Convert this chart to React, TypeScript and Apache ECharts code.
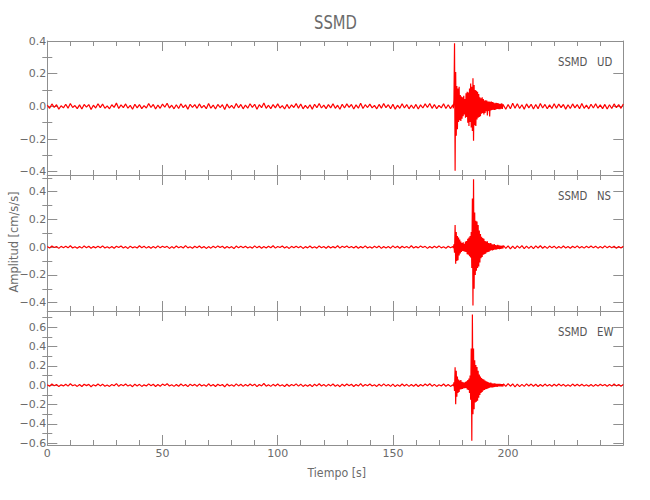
import React, { useEffect, useRef } from "react";
import * as echarts from "echarts";

// ---- data (amplitudes in 1/1000 cm/s/s) ----
// pre-event noise: t = 0..175 s, step 1 s
const UD_PRE = [
  8,-12,15,-6,10,-17,4,-9,13,-11,18,-7,5,-14,9,-16,12,-5,11,-19,7,-10,
  16,-8,14,-12,3,-15,10,-6,20,-13,9,-8,15,-11,6,-18,13,-9,11,-14,5,-10,
  17,-7,12,-16,8,-12,14,-5,19,-10,7,-15,10,-13,16,-8,9,-17,13,-6,11,-12,
  15,-9,6,-14,18,-11,8,-16,12,-7,10,-19,14,-10,6,-13,17,-9,12,-15,8,-11,
  16,-6,13,-18,10,-8,21,-12,7,-14,11,-9,15,-10,5,-16,12,-13,9,-7,17,-11,
  14,-15,6,-12,10,-17,13,-8,18,-10,8,-14,11,-9,16,-12,7,-18,13,-10,15,-6,
  12,-16,9,-11,19,-13,10,-7,14,-9,6,-15,12,-11,17,-8,10,-14,13,-17,7,-12,
  16,-10,11,-15,8,-13,12,-16,9,-10,15,-7,18,-12,11,-14,6,-9,16,-13,10,-14,
];
// event: t = 176.0..197.75 s, step 0.25 s
const UD_EVENT = [
  10,-12,40,386,-394,210,-180,125,
  -140,110,-95,120,-85,70,-90,60,
  -75,55,-60,65,-50,45,-70,80,
  -65,90,-100,85,-120,110,-95,140,
  -130,120,-150,172,-210,130,-115,100,
  -120,95,-80,90,-70,75,-65,55,
  -60,50,-45,55,-40,45,-50,35,
  -40,38,-30,35,-55,30,-28,30,
  -62,28,-25,30,-22,26,-20,24,
  -22,18,-20,22,-18,20,-16,19,
  -18,15,-17,16,-14,18,-15,13,
];
// post-event noise: t = 198..250 s, step 1 s
const UD_POST = [
  14,-18,12,-15,19,-11,16,-13,10,-17,15,-9,13,-16,11,-14,18,-10,12,-15,
  9,-13,16,-11,14,-8,12,-17,10,-13,15,-9,11,-14,17,-12,8,-15,13,-10,
  16,-11,9,-14,12,-16,10,-13,15,-8,11,-12,14,
];

const NS_PRE = [
  4,-6,8,-3,5,-9,6,-4,7,-5,10,-6,3,-8,5,-7,9,-4,6,-8,4,-5,
  7,-4,9,-6,3,-7,5,-8,6,-3,8,-6,4,-9,7,-5,3,-6,10,-4,6,-7,
  5,-8,4,-6,9,-5,7,-3,6,-9,4,-7,8,-4,5,-6,11,-5,3,-8,6,-4,
  8,-6,5,-9,4,-7,6,-5,9,-3,7,-8,5,-6,4,-10,8,-5,6,-4,7,-6,
  3,-7,9,-5,6,-8,4,-6,7,-4,10,-7,5,-3,8,-6,4,-9,6,-5,7,-4,
  6,-9,4,-5,8,-6,3,-7,9,-4,5,-8,7,-6,4,-5,10,-7,6,-3,8,-5,
  5,-6,7,-8,4,-5,9,-6,3,-7,6,-4,8,-9,5,-6,4,-7,9,-5,6,-8,
  7,-4,5,-7,10,-6,4,-5,8,-3,6,-9,5,-6,7,-4,9,-5,3,-8,6,-5,
];
const NS_EVENT = [
  5,-6,20,-40,160,-120,110,-100,
  80,-95,70,-60,55,-45,40,-35,
  30,-28,35,-30,25,-32,40,-35,
  45,-50,60,-55,70,-65,80,-75,
  110,-150,350,-420,490,-300,250,-200,
  190,-170,185,-150,160,-140,120,-110,
  95,-80,75,-70,65,-55,60,-50,
  45,-48,40,-38,42,-35,30,-32,
  28,-25,30,-22,20,-24,18,-20,
  22,-16,15,-18,14,-15,16,-12,
  13,-14,11,-12,10,-11,12,-9,
];
const NS_POST = [
  12,-9,10,-13,8,-11,9,-7,11,-10,8,-9,7,-11,9,-6,10,-8,6,-9,
  8,-5,7,-9,5,-7,8,-6,4,-8,7,-5,9,-6,5,-7,6,-4,8,-5,
  6,-7,4,-6,9,-5,7,-4,6,-8,5,-6,7,
];

const EW_PRE = [
  6,-10,13,-5,8,-14,4,-7,11,-9,15,-6,5,-12,8,-13,10,-4,9,-16,6,-8,
  13,-7,11,-10,3,-12,8,-5,17,-11,7,-6,12,-9,5,-15,11,-7,9,-12,4,-8,
  14,-6,10,-13,7,-10,12,-4,16,-8,6,-12,8,-11,13,-7,8,-14,11,-5,9,-10,
  12,-8,5,-11,15,-9,7,-13,10,-6,8,-16,12,-8,5,-11,14,-7,10,-12,7,-9,
  13,-5,11,-15,8,-7,18,-10,6,-12,9,-8,13,-9,4,-13,10,-11,7,-6,14,-9,
  11,-12,5,-10,8,-14,11,-7,15,-8,7,-12,9,-7,13,-10,6,-15,11,-8,12,-5,
  10,-13,8,-9,16,-11,8,-6,12,-8,5,-12,10,-9,14,-7,8,-12,11,-14,6,-10,
  13,-8,9,-12,7,-11,10,-13,8,-9,12,-6,15,-10,9,-12,5,-8,13,-11,8,-12,
];
const EW_EVENT = [
  5,-8,30,-60,186,-196,150,-120,
  90,-80,60,-70,50,-45,55,-40,
  35,-38,30,-32,28,-30,35,-28,
  40,-45,55,-50,70,-80,100,-150,
  380,-576,734,-300,380,-250,260,-180,
  210,-170,190,-160,150,-130,110,-100,
  90,-80,75,-70,65,-55,60,-50,
  48,-42,40,-38,35,-33,30,-28,
  26,-24,28,-22,20,-22,18,-19,
  20,-16,17,-15,14,-16,15,-13,
  14,-12,13,-11,12,-13,10,-11,
];
const EW_POST = [
  15,-12,17,-10,13,-16,11,-14,9,-12,14,-8,12,-11,10,-13,8,-10,12,-9,
  7,-11,10,-8,13,-7,9,-11,6,-10,12,-8,9,-7,11,-9,6,-10,8,-12,
  7,-9,11,-6,8,-10,7,-9,12,-7,8,-10,9,
];

const COMPONENTS = ["UD", "NS", "EW"];
const STATION = "SSMD";

// y ranges and tick values for each panel
const Y_RANGES = [[-0.42, 0.4], [-0.46, 0.52], [-0.62, 0.77]];
const Y_MAJOR = [
  [-0.4, -0.2, 0, 0.2, 0.4],
  [-0.4, -0.2, 0, 0.2, 0.4],
  [-0.6, -0.4, -0.2, 0, 0.2, 0.4, 0.6],
];
const Y_MINOR = [
  [-0.3, -0.1, 0.1, 0.3],
  [-0.3, -0.1, 0.1, 0.3, 0.5],
  [-0.5, -0.3, -0.1, 0.1, 0.3, 0.5, 0.7],
];
const X_MIN = 0;
const X_MAX = 250;
const X_INTERVAL = 50;

const PRE_START = 0, PRE_STEP = 1;
const EV_START = 176, EV_STEP = 0.25;
const POST_START = 198, POST_STEP = 1;

function buildTrace(pre: number[], ev: number[], post: number[]) {
  const out: [number, number][] = [];
  pre.forEach((v, i) => out.push([PRE_START + i * PRE_STEP, v / 1000]));
  ev.forEach((v, i) => out.push([EV_START + i * EV_STEP, v / 1000]));
  post.forEach((v, i) => out.push([POST_START + i * POST_STEP, v / 1000]));
  return out;
}

const TRACES = [
  buildTrace(UD_PRE, UD_EVENT, UD_POST),
  buildTrace(NS_PRE, NS_EVENT, NS_POST),
  buildTrace(EW_PRE, EW_EVENT, EW_POST),
];

const AX = "#8f8f8f";
const TX = "#6b6b6b";
const FONT = "'DejaVu Sans', 'Roboto', sans-serif";

const GRIDS = [
  { left: 47.3, top: 41, width: 576, height: 134 },
  { left: 47.3, top: 175, width: 576, height: 136 },
  { left: 47.3, top: 311, width: 576, height: 134 },
];

const fmtY = (v: number) =>
  (Math.abs(v) < 1e-9 ? "0.0" : v.toFixed(1)).replace("-", "\u2212");

export default function App() {
  const ref = useRef<HTMLDivElement>(null);
  useEffect(() => {
    if (!ref.current) return;
    const chart = echarts.init(ref.current, undefined, { renderer: "svg" });

    const xAxis: any[] = [];
    const yAxis: any[] = [];
    const series: any[] = [];
    const graphic: any[] = [];

    GRIDS.forEach((g, i) => {
      ["bottom", "top"].forEach((pos) => {
        xAxis.push({
          type: "value",
          gridIndex: i,
          position: pos,
          min: X_MIN,
          max: X_MAX,
          interval: X_INTERVAL,
          axisLine: { show: true, onZero: false, lineStyle: { color: AX, width: 1 } },
          axisTick: { show: true, inside: true, length: 10, lineStyle: { color: AX } },
          minorTick: { show: true, splitNumber: 5, length: 5, lineStyle: { color: AX } },
          splitLine: { show: false },
          minorSplitLine: { show: false },
          axisLabel: {
            show: pos === "bottom" && i === 2,
            color: TX,
            fontFamily: FONT,
            fontSize: 11,
            margin: 3,
            showMaxLabel: false,
          },
        });
      });
      const [ymin, ymax] = Y_RANGES[i];
      ["left", "right"].forEach((pos) => {
        yAxis.push({
          type: "value",
          gridIndex: i,
          position: pos,
          min: ymin,
          max: ymax,
          axisLine: { show: true, onZero: false, lineStyle: { color: AX, width: 1 } },
          axisTick: {
            show: true,
            inside: true,
            length: 10,
            customValues: Y_MAJOR[i],
            lineStyle: { color: AX },
          },
          splitLine: { show: false },
          axisLabel: {
            show: pos === "left",
            customValues: Y_MAJOR[i],
            formatter: fmtY,
            color: TX,
            fontFamily: FONT,
            fontSize: 11,
            margin: 1,
          },
        });
        yAxis.push({
          type: "value",
          gridIndex: i,
          position: pos,
          min: ymin,
          max: ymax,
          axisLine: { show: false },
          axisTick: {
            show: true,
            inside: true,
            length: 5,
            customValues: Y_MINOR[i],
            lineStyle: { color: AX },
          },
          splitLine: { show: false },
          axisLabel: { show: false },
        });
      });
      series.push({
        type: "line",
        xAxisIndex: i * 2,
        yAxisIndex: i * 4,
        data: TRACES[i],
        symbol: "none",
        showSymbol: false,
        silent: true,
        lineStyle: { color: "#ff0000", width: 1.2 },
      });
      const ly = g.top + 20.7;
      graphic.push({
        type: "text",
        x: 558,
        y: ly,
        scaleX: 0.78,
        style: { text: STATION, fill: "#555", font: `13px ${FONT}`, align: "left", verticalAlign: "middle" },
      });
      graphic.push({
        type: "text",
        x: 597,
        y: ly,
        scaleX: 0.78,
        style: { text: COMPONENTS[i], fill: "#555", font: `13px ${FONT}`, align: "left", verticalAlign: "middle" },
      });
    });

    graphic.push({
      type: "text",
      x: 335.5,
      y: 22.5,
      scaleX: 0.74,
      style: { text: STATION, fill: TX, font: `20px ${FONT}`, align: "center", verticalAlign: "middle" },
    });
    graphic.push({
      type: "text",
      x: 336.7,
      y: 472.7,
      scaleX: 0.85,
      style: { text: "Tiempo [s]", fill: TX, font: `13px ${FONT}`, align: "center", verticalAlign: "middle" },
    });
    graphic.push({
      type: "text",
      x: 13.3,
      y: 242,
      rotation: Math.PI / 2,
      scaleX: 0.88,
      style: { text: "Amplitud [cm/s/s]", fill: TX, font: `13px ${FONT}`, align: "center", verticalAlign: "middle" },
    });

    chart.setOption({
      animation: false,
      backgroundColor: "#ffffff",
      grid: GRIDS,
      xAxis,
      yAxis,
      series,
      graphic,
    });
    return () => chart.dispose();
  }, []);
  return (
    <div
      ref={ref}
      style={{ position: "absolute", left: 0, top: 0, width: 650, height: 500 }}
    />
  );
}
